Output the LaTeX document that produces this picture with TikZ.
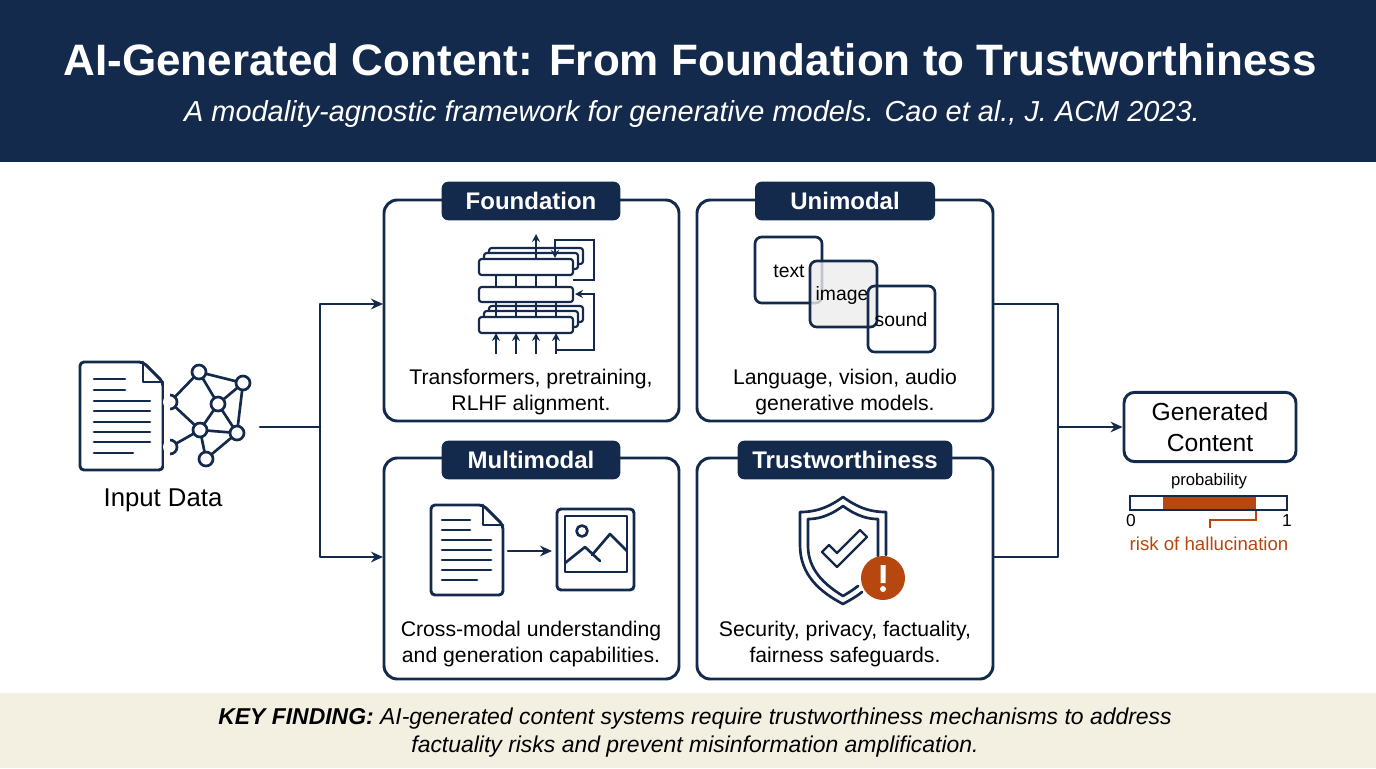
\documentclass[tikz,border=0pt]{standalone}
\usepackage{fontspec}
\setmainfont{Liberation Sans}
\usetikzlibrary{arrows.meta}
\definecolor{navy}{HTML}{142A4C}
\definecolor{beige}{HTML}{F3EFE1}
\definecolor{rust}{HTML}{B5470F}
\begin{document}
\begin{tikzpicture}[x=0.75pt,y=-0.75pt,
  ln/.style={draw=navy,line width=2pt,line cap=round,line join=round},
  panel/.style={draw=navy,line width=2.2pt,rounded corners=10pt},
  tab/.style={fill=navy,rounded corners=5pt,text=white,font=\fontsize{18}{20}\selectfont\bfseries,inner sep=0pt,minimum height=29pt},
  captxt/.style={font=\fontsize{15.9}{19.5}\selectfont,align=center,text=black},
  arr/.style={ln,-{Stealth[length=9pt,width=8pt]}},
  lay/.style={draw=navy,line width=1.6pt,fill=white,rounded corners=2pt}]
\useasboundingbox (0,0) rectangle (1376,768);
\fill[navy] (0,0) rectangle (1376,162);
\fill[beige] (0,693) rectangle (1376,768);
\node[text=white,font=\fontsize{33}{38}\selectfont\bfseries] (title) at (690,60) {AI-Generated Content: From Foundation to Trustworthiness};
\node[text=white,font=\fontsize{21.7}{26}\selectfont\itshape] (sub) at (692,114) {A modality-agnostic framework for generative models. Cao et al., J. ACM 2023.};
\node[font=\fontsize{17.2}{21}\selectfont\itshape,align=center] (foot) at (695,733) {\textbf{KEY FINDING:} AI-generated content systems require trustworthiness mechanisms to address\\factuality risks and prevent misinformation amplification.};

% panels
\draw[panel] (384,200) rectangle (679,421);
\draw[panel] (697,200) rectangle (993,421);
\draw[panel] (384,458) rectangle (679,679);
\draw[panel] (697,458) rectangle (993,679);
\node[tab,minimum width=134pt] (tf) at (531,201) {Foundation};
\node[tab,minimum width=135pt] (tu) at (845,201) {Unimodal};
\node[tab,minimum width=134pt] (tm) at (531,460) {Multimodal};
\node[tab,minimum width=161pt] (tt) at (845,460) {Trustworthiness};
\node[captxt] (cf) at (531,392) {Transformers, pretraining,\\RLHF alignment.};
\node[captxt] (cu) at (845,392) {Language, vision, audio\\generative models.};
\node[captxt] (cm) at (531,644) {Cross-modal understanding\\and generation capabilities.};
\node[captxt] (ct) at (845,644) {Security, privacy, factuality,\\fairness safeguards.};

% foundation icon
\foreach \dy in {0,58}{
  \draw[lay] (489,{248+\dy}) rectangle (583,{264+\dy});
  \draw[lay] (484,{253+\dy}) rectangle (578,{269+\dy});
  \draw[lay] (479,{259+\dy}) rectangle (573,{275+\dy});}
\draw[lay] (479,287) rectangle (573,302);
\foreach \x in {496,516,536,556}{
  \draw[navy,line width=1.6pt] (\x,275) -- (\x,287) (\x,302) -- (\x,317);
  \draw[navy,line width=1.6pt,-{Stealth[length=6pt,width=6pt]}] (\x,354) -- (\x,333);}
\draw[navy,line width=1.6pt,-{Stealth[length=6pt,width=6pt]}] (536,259) -- (536,234);
\draw[navy,line width=1.6pt,-{Stealth[length=6pt,width=6pt]}] (573,280) -- (594,280) -- (594,240) -- (555,240) -- (555,258);
\draw[navy,line width=1.6pt,-{Stealth[length=6pt,width=6pt]}] (556,350) -- (594,350) -- (594,294) -- (575,294);

% unimodal
\draw[ln,fill=white,rounded corners=5pt] (755,237) rectangle (822,303);
\node[font=\fontsize{14.5}{16}\selectfont] (ttext) at (789,271) {text};
\draw[ln,fill=gray!15,fill opacity=0.8,rounded corners=5pt] (810,261) rectangle (877,327);
\node[font=\fontsize{14.5}{16}\selectfont] (timg) at (842,295) {image};
\draw[ln,rounded corners=5pt] (868,286) rectangle (935,352);
\node[font=\fontsize{14.5}{16}\selectfont] (tsnd) at (901,320) {sound};

% input data
\draw[ln,line width=2.2pt,rounded corners=3pt] (80,362) -- (143,362) -- (163,382) -- (163,470) -- (80,470) -- cycle;
\draw[ln,line width=2.2pt] (143,362) -- (143,382) -- (163,382);
\foreach \y/\e in {379/125,390/125,401/150,411/150,422/150,432/150,442/150,453/133}
  \draw[ln] (94,\y) -- (\e,\y);
\coordinate (n1) at (199,372); \coordinate (n2) at (243,383); \coordinate (n3) at (218,404);
\coordinate (n4) at (200,430); \coordinate (n5) at (237,433); \coordinate (n6) at (206,459);
\coordinate (p1) at (170,402); \coordinate (p2) at (170,447);
\draw[ln] (n1)--(n2) (n1)--(n3) (n2)--(n3) (n2)--(n5) (n3)--(n4) (n3)--(n5) (n4)--(n5) (n4)--(n6) (n5)--(n6)
  (n1)--(p1) (p1)--(n4) (n4)--(p2);
\fill[white] (p1) circle (7) (p2) circle (7);
\draw[ln] (170,395) arc (-90:90:7);
\draw[ln] (170,440) arc (-90:90:7);
\fill[white] (164,380) rectangle (169.5,470);
\foreach \n in {n1,n2,n3,n4,n5,n6} \draw[ln,fill=white] (\n) circle (7);
\node[font=\fontsize{19.3}{22}\selectfont] (inp) at (163,500) {Input Data};

% multimodal
\draw[ln,line width=2.2pt,rounded corners=3pt] (431,505) -- (483,505) -- (503,525) -- (503,595) -- (431,595) -- cycle;
\draw[ln,line width=2.2pt] (483,505) -- (483,525) -- (503,525);
\foreach \y/\e in {520/470,530/470,540/491,550/491,560/491,570/491,580/477}
  \draw[ln] (442,\y) -- (\e,\y);
\coordinate (ma) at (508,551); \coordinate (mb) at (552,551);
\draw[arr] (ma) -- (mb);
\draw[ln,line width=2.2pt,rounded corners=3pt] (557,509) rectangle (634,590);
\draw[ln] (565,516) rectangle (627,572);
\draw[ln] (582,531) circle (5.5);
\draw[ln] (565,563) -- (585,547) -- (600,561) (592,555) -- (610,534) -- (627,551);

% trust shield
\draw[ln] (843,497) .. controls (825,510) and (812,512) .. (800,512) -- (800,545) .. controls (800,575) and (820,592) .. (843,604) .. controls (850,600) and (856,597) .. (862,592);
\draw[ln] (843,497) .. controls (861,510) and (874,512) .. (886,512) -- (886,555);
\draw[ln] (843,506) .. controls (828,517) and (817,519) .. (808,519) -- (808,546) .. controls (808,570) and (825,585) .. (843,596) .. controls (848,593) and (853,590) .. (858,586);
\draw[ln] (843,506) .. controls (858,517) and (869,519) .. (878,519) -- (878,556);
\draw[ln,line width=1.8pt] (822,552) -- (829,545) -- (837,553) -- (860,530) -- (867,537) -- (837,567) -- cycle;
\fill[rust] (883,578) circle (22);
\fill[white] (880.5,565) rectangle (885.5,583) (883,589) circle (3);

% connectors
\coordinate (sp) at (320,427); \coordinate (st) at (320,304); \coordinate (sb) at (320,557);
\draw[ln] (260,427) -- (sp);
\draw[arr] (sp) -- (st) -- (383,304);
\draw[arr] (sp) -- (sb) -- (383,557);
\coordinate (jt) at (1058,304); \coordinate (jb) at (1058,557); \coordinate (jm) at (1058,427);
\draw[ln] (993,304) -- (jt) -- (jb) -- (993,557);
\node[draw=navy,line width=2.2pt,rounded corners=8pt,minimum width=129pt,minimum height=52pt,align=center,font=\fontsize{18.5}{23}\selectfont] (gen) at (1210,427) {Generated\\Content};
\draw[arr] (jm) -- (gen.west);

% probability bar
\node[font=\fontsize{12.5}{14}\selectfont] (prob) at (1209,481) {probability};
\draw[navy,line width=1.2pt,fill=white] (1130,496) rectangle (1287,510);
\fill[rust] (1163,497) rectangle (1256,509);
\node[font=\fontsize{13}{14}\selectfont] (z) at (1131,521) {0};
\node[font=\fontsize{13}{14}\selectfont] (o) at (1287,521) {1};
\draw[rust,line width=1.2pt] (1256,511) -- (1256,520) -- (1210,520) -- (1210,528);
\node[text=rust,font=\fontsize{14}{15}\selectfont] (risk) at (1209,544) {risk of hallucination};
\end{tikzpicture}
\end{document}
